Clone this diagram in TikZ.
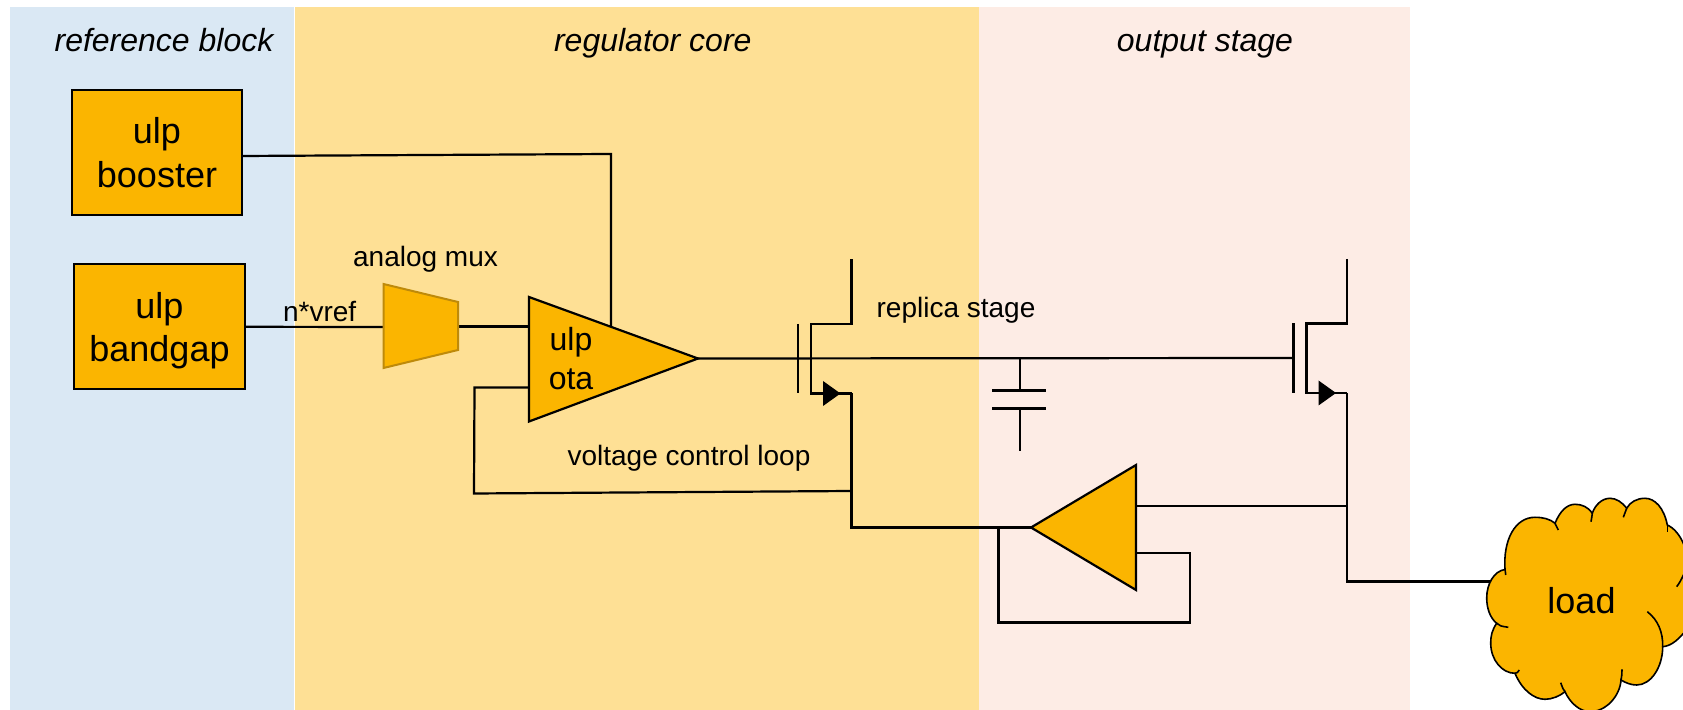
\documentclass[tikz,border=0pt]{standalone}
\usepackage{fontspec}
\setmainfont{Liberation Sans}
\definecolor{amberfill}{HTML}{FBB500}
\definecolor{amberedge}{HTML}{BE8A0A}
\definecolor{refbg}{HTML}{DAE8F4}
\definecolor{corebg}{HTML}{FEE095}
\definecolor{outbg}{HTML}{FDECE5}
\tikzset{
	wire/.style = {line width = 1.1pt, line join = miter},
	block/.style = {draw, line width = 1.1pt, fill = amberfill, inner sep = 0pt, outer sep = 0pt, align = center, text depth = 0pt, font = \fontsize{18}{21.6}\selectfont},
	amp/.style = {draw, line width = 1.1pt, fill = amberfill, line join = miter},
	title/.style = {anchor = base, inner sep = 0pt, font = \fontsize{16}{19}\selectfont\itshape},
	note/.style = {anchor = base, inner sep = 0pt, font = \fontsize{14}{17}\selectfont}
}

\begin{document}
\begin{tikzpicture}[x = 0.5pt, y = -0.5pt]
	 \clip (0, 0) rectangle (1683, 710);
	 \fill[white] (0, 0) rectangle (1683, 710);
	 \fill[refbg] (10, 7) rectangle (294, 710);
	 \fill[corebg] (295, 7) rectangle (979, 710);
	 \fill[outbg] (979, 7) rectangle (1410, 710);

	 \node[title] (reftitle) at (164, 51.7) {reference block};
	 \node[title] (coretitle) at (652.8, 51.7) {regulator core};
	 \node[title] (outtitle) at (1205, 51.7) {output stage};

	 \node[block, minimum width = 85.3pt, minimum height = 62.5pt] (booster) at (157, 152.5) {ulp\\booster};
	 \node[block, minimum width = 85.5pt, minimum height = 62.5pt] (bandgap) at (159.5, 326.8) {ulp\\bandgap};

	 \coordinate (boosterout) at (242, 156);
	 \coordinate (boosterturn) at (611, 154);
	 \coordinate (otatap) at (611, 327);
	 \coordinate (muxin) at (383.5, 327);
	 \coordinate (muxout) at (458, 326.5);
	 \coordinate (otaplus) at (529, 326.5);
	 \coordinate (otaminus) at (529, 387.5);
	 \coordinate (otaout) at (698, 358.5);
	 \coordinate (loopcorner) at (474.5, 387.5);
	 \coordinate (loopbottom) at (474, 493.5);
	 \coordinate (loopjoin) at (851.5, 491);
	 \coordinate (replicatail) at (851.5, 527.5);
	 \coordinate (bufout) at (1031, 527.5);
	 \coordinate (bufin) at (1136, 506);
	 \coordinate (buffb) at (1136, 553);
	 \coordinate (fbright) at (1190, 553);
	 \coordinate (fbcornerr) at (1190, 622.5);
	 \coordinate (fbcornerl) at (998.5, 622.5);
	 \coordinate (fbtop) at (998.5, 527.5);
	 \coordinate (passjoin) at (1347, 506);
	 \coordinate (passtail) at (1347, 581.5);
	 \coordinate (loadin) at (1491, 581.5);

	 % both transistors
	 \foreach \mos/\gx/\gy in {replica/798/358.5, pass/1293.5/358}
	 {
	 	 \coordinate (\mos gate) at (\gx, \gy);
	 	 \coordinate (\mos drain) at (\gx + 53.5, \gy - 99);
	 	 \coordinate (\mos source) at (\gx + 53.5, \gy + 35);
	 	 \draw[wire] (\gx, \gy - 34.5) -- (\gx, \gy + 35);
	 	 \draw[wire] (\mos drain) -- (\gx + 53.5, \gy - 34.5) -- (\gx + 13, \gy - 34.5) -- (\gx + 13, \gy + 35) -- (\mos source);
	 	 \fill (\gx + 25, \gy + 22.5) -- (\gx + 42.5, \gy + 35) -- (\gx + 25, \gy + 47.5) -- cycle;
	 }

	 \coordinate (captop) at (1020, 358);
	 \coordinate (capa) at (1020, 390.5);
	 \coordinate (capb) at (1020, 408.5);
	 \coordinate (capend) at (1020, 451);

	 \draw[wire] (boosterout) -- (boosterturn) -- (otatap);
	 \draw[wire] (bandgap.east) -- (muxin);
	 \draw[wire] (muxout) -- (otaplus);
	 \draw[wire] (otaout) -- (passgate);
	 \draw[wire] (otaminus) -- (loopcorner) -- (loopbottom) -- (loopjoin);
	 \draw[wire] (replicasource) -- (replicatail) -- (bufout);
	 \draw[wire] (bufin) -- (passjoin);
	 \draw[wire] (passsource) -- (passtail) -- (loadin);
	 \draw[wire] (buffb) -- (fbright) -- (fbcornerr) -- (fbcornerl) -- (fbtop);

	 \draw[wire] (captop) -- (capa);
	 \draw[wire] (capb) -- (capend);
	 \draw[wire] (992, 390.5) -- (1046, 390.5);
	 \draw[wire] (992, 408.5) -- (1046, 408.5);

	 \filldraw[fill = amberfill, draw = amberedge, line width = 1pt, line join = miter] (383.5, 284) -- (458, 302) -- (458, 350) -- (383.5, 368) -- cycle;
	 \draw[amp] (529, 297) -- (otaout) -- (529, 421.5) -- cycle;
	 \draw[amp] (1136, 465) -- (1136, 590) -- (bufout) -- cycle;

	 \node[block, draw = none, fill = none, font = \fontsize{16}{19.3}\selectfont] (ota) at (571, 358.3) {ulp\\ota};

	 % load cloud
	 \filldraw[fill = amberfill, line width = 0.8pt] (1505, 569.5)
	 	 .. controls (1494, 571) and (1486.7, 584) .. (1486.7, 598)
	 	 .. controls (1486.7, 608) and (1490, 618) .. (1496.7, 623.3)
	 	 .. controls (1492, 630) and (1490.7, 636) .. (1490.7, 643)
	 	 .. controls (1490.7, 660) and (1502, 673.3) .. (1515, 673.3)
	 	 .. controls (1522, 690) and (1534, 699.3) .. (1545, 699.3)
	 	 .. controls (1552, 699.3) and (1560, 696) .. (1565, 691.7)
	 	 .. controls (1570, 703) and (1580, 711.7) .. (1590, 711.7)
	 	 .. controls (1606, 711.7) and (1620, 696) .. (1621, 680)
	 	 .. controls (1626, 683) and (1631, 685) .. (1636.7, 685)
	 	 .. controls (1651, 685) and (1662.7, 667) .. (1662.7, 646.7)
	 	 .. controls (1672, 646) and (1680, 638) .. (1686, 630)
	 	 .. controls (1700, 600) and (1700, 560) .. (1684, 545)
	 	 .. controls (1680, 535) and (1674, 528) .. (1667.3, 525)
	 	 .. controls (1664, 508) and (1655, 498.3) .. (1645, 498.3)
	 	 .. controls (1637, 498.3) and (1630, 502) .. (1626.7, 508.3)
	 	 .. controls (1622, 502) and (1616, 498.3) .. (1610, 498.3)
	 	 .. controls (1602, 498.3) and (1595, 505) .. (1592.3, 513.3)
	 	 .. controls (1588, 507) and (1582, 504.3) .. (1575, 504.3)
	 	 .. controls (1567, 504.3) and (1560, 511) .. (1555, 523.3)
	 	 .. controls (1550, 519) and (1543, 517.3) .. (1535, 517.3)
	 	 .. controls (1515, 517.3) and (1503, 540) .. (1505, 569.5) -- cycle;
	 \draw[line width = 0.8pt] (1505, 569.5) .. controls (1505.3, 571) .. (1505.7, 575);
	 \draw[line width = 0.8pt] (1496.7, 623.3) .. controls (1500, 626) .. (1508.3, 627.3);
	 \draw[line width = 0.8pt] (1515, 673.3) .. controls (1517, 673) .. (1519.3, 670);
	 \draw[line width = 0.8pt] (1565, 691.7) .. controls (1563, 689) .. (1560.7, 682.7);
	 \draw[line width = 0.8pt] (1621, 680) .. controls (1621.8, 676) .. (1622, 669.3);
	 \draw[line width = 0.8pt] (1662.7, 646.7) .. controls (1663, 632) and (1658, 620) .. (1647.3, 611.7);
	 \draw[line width = 0.8pt] (1676.7, 586.7) .. controls (1680, 582) .. (1684, 574);
	 \draw[line width = 0.8pt] (1667.3, 525) -- (1667.3, 531.7);
	 \draw[line width = 0.8pt] (1626.7, 508.3) -- (1623.3, 517.3);
	 \draw[line width = 0.8pt] (1592.3, 513.3) .. controls (1592, 516) .. (1591, 521.7);
	 \draw[line width = 0.8pt] (1555, 523.3) -- (1558.3, 530);
	 \node[block, draw = none, fill = none] (load) at (1581.5, 600) {load};

	 \node[note] (muxlabel) at (425.5, 266.7) {analog mux};
	 \node[note] (vreflabel) at (319.7, 321.7) {n*vref};
	 \node[note] (replicalabel) at (956, 317.3) {replica stage};
	 \node[note] (looplabel) at (689, 466) {voltage control loop};
\end{tikzpicture}
\end{document}
